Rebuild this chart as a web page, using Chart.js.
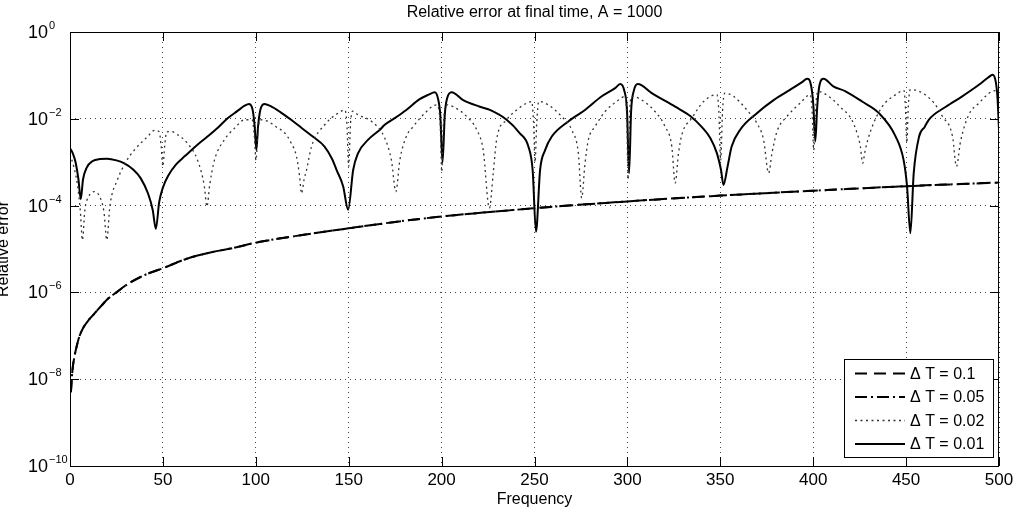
<!DOCTYPE html>
<html>
<head>
<meta charset="utf-8">
<title>Relative error at final time</title>
<script src="https://cdn.jsdelivr.net/npm/chart.js@4.4.0/dist/chart.umd.min.js"></script>
<style>
  html, body { margin: 0; padding: 0; background: #fff; }
  #errChart { display: block; }
</style>
</head>
<body>
<canvas id="errChart" width="1018" height="514"></canvas>
<script>
// values (frequency / relative error)

// dT = 0.1 and dT = 0.05 sit on top of each other
const lowFreq = [0.5, 1, 1.5, 2.5, 3.5, 5, 7, 10, 13, 17, 21, 25, 30, 40, 50, 62.5, 75, 87.5,
  100, 125, 150, 175, 200, 250, 300, 350, 400, 450, 500];
const errDt01 = [5e-9, 1.1e-8, 1.9e-8, 3.5e-8, 5.5e-8, 9.5e-8, 1.5e-7, 2.3e-7, 3.2e-7, 5e-7,
  7.5e-7, 1e-6, 1.45e-6, 2.5e-6, 3.6e-6, 5.9e-6, 8.2e-6, 1.05e-5,
  1.4e-5, 2.1e-5, 3e-5, 4.2e-5, 5.6e-5, 8.7e-5, 1.25e-4, 1.7e-4, 2.2e-4, 2.8e-4, 3.4e-4];
const errDt005 = [5e-9, 1.1e-8, 1.9e-8, 3.5e-8, 5.5e-8, 9.5e-8, 1.5e-7, 2.3e-7, 3.2e-7, 5e-7,
  7.5e-7, 1e-6, 1.45e-6, 2.5e-6, 3.6e-6, 5.9e-6, 8.2e-6, 1.05e-5,
  1.4e-5, 2.1e-5, 3e-5, 4.2e-5, 5.6e-5, 8.7e-5, 1.25e-4, 1.7e-4, 2.2e-4, 2.8e-4, 3.4e-4];

const dt002Freq = [0, 2, 4, 5.5, 6.7, 8, 10, 13, 16, 18.3, 19.8, 21.5, 25.6, 30, 34.6, 41.8, 45.4,
  48, 49, 50, 51, 52, 54.3, 57.9, 63.3, 68.7, 72.3, 73.7, 75.2, 77.7, 83.1, 88.6, 94,
  98, 99.2, 100.1, 101, 102.2, 106.6, 111, 115.6, 119, 121.9, 123.5, 124.6, 126, 127.3, 130,
  137.1, 144.3, 147.9, 149, 150, 151, 152.2, 155.1, 162.3, 169.4, 173, 175.4, 177.5, 181,
  184.7, 191, 197.3, 199.2, 200.1, 201, 202.8, 206.3, 213.5, 218.9, 222.4, 225.7, 227.8,
  229.6, 235, 240.4, 245.8, 248.5, 249.5, 250.3, 251.2, 252.3, 257.4, 264.6, 270, 273.6,
  275.4, 277.2, 279, 282.6, 288, 295.2, 298.7, 299.6, 300.4, 301.2, 302.2, 305.9, 314.9,
  320.3, 323.9, 325.7, 327.5, 329.3, 334.7, 341, 348.2, 349.2, 350.2, 351.2, 352.4, 357.1,
  364.3, 369.7, 373.3, 376, 377.8, 380.5, 385.9, 393, 398.4, 399.4, 400.3, 401.2, 402.5,
  405.6, 410.8, 416.2, 419.1, 422.7, 425.4, 426.6, 428, 430.8, 437.1, 444.4, 448.8, 449.6,
  450.4, 451.2, 452.2, 457, 465.1, 469.6, 475, 477.1, 479.3, 483.7, 489.2, 496.4, 500];
const errDt002 = [1.5e-3, 8e-4, 3e-4, 8e-5, 1.6e-5, 8e-5, 1.6e-4, 2.1e-4, 1.6e-4, 7e-5, 1.6e-5,
  1e-4, 4e-4, 1e-3, 1.9e-3, 3.9e-3, 5.4e-3,
  5e-3, 2.5e-3, 8e-4, 2.5e-3, 5e-3, 5.1e-3, 4.3e-3, 2.7e-3, 1.1e-3, 2.8e-4, 9.5e-5, 3e-4,
  1.1e-3, 3.3e-3, 6.1e-3, 9.5e-3,
  9.5e-3, 4e-3, 1.1e-3, 4e-3, 9.5e-3, 8.7e-3, 6.5e-3, 4.7e-3, 2.8e-3, 1.35e-3, 5e-4, 1.9e-4,
  4e-4, 6.6e-4, 2.3e-3,
  7.3e-3, 1.35e-2, 1.6e-2, 8e-3, 8e-4, 8e-3, 1.5e-2, 1.23e-2, 8.7e-3, 3.6e-3, 1.1e-3, 2.1e-4,
  1.1e-3, 3.9e-3,
  6.6e-3, 1.35e-2, 2.1e-2, 8e-3, 6e-4, 8e-3, 2.1e-2, 1.9e-2, 1.13e-2, 5.6e-3, 1.9e-3, 8.7e-5,
  5.6e-4,
  3.3e-3, 9.5e-3, 1.6e-2, 2.3e-2, 2.5e-2, 8e-3, 1e-3, 8e-3, 2.5e-2, 2.1e-2, 1.13e-2, 5.6e-3,
  1.6e-3,
  1.5e-4, 9.5e-4, 3.3e-3, 6.6e-3, 1.47e-2, 2.7e-2, 3.3e-2, 1.2e-2, 4e-4, 1.2e-2, 3.3e-2,
  3.0e-2, 1.47e-2,
  6.6e-3, 2.3e-3, 3.3e-4, 1.6e-3, 4.3e-3, 1.04e-2, 2.5e-2, 3.6e-2, 1.5e-2, 1.1e-3, 1.5e-2,
  3.9e-2, 3.3e-2,
  1.6e-2, 7.9e-3, 3.3e-3, 5.6e-4, 1.6e-3, 5.1e-3, 1.13e-2, 2.3e-2, 3.6e-2, 1.5e-2, 1.9e-3,
  1.5e-2, 4.3e-2,
  3.9e-2, 2.7e-2, 1.6e-2, 1.23e-2, 6.1e-3, 2.3e-3, 9.5e-4, 1.9e-3, 5.1e-3, 1.9e-2, 3.6e-2,
  4.5e-2, 2e-2,
  2.8e-3, 2e-2, 4.7e-2, 4.3e-2, 2.3e-2, 1.13e-2, 3.9e-3, 8e-4, 3e-3, 1.23e-2, 2.3e-2, 4.3e-2,
  4.5e-2];

const dt001Freq = [0, 1.5, 3, 4.5, 5.8, 7, 9, 12, 16, 20, 25, 29, 34, 38, 42, 44.5, 46.2, 48, 50,
  53, 57, 62, 68, 74, 80, 85, 90, 94, 96.3, 97.8, 98.6, 99.4, 100.3, 101.2, 102.1, 103, 104.7,
  108, 113, 119, 125, 131, 137, 141, 143.5, 147, 149.7, 152.4, 155, 160.5, 166.8, 169.4, 175,
  181, 188, 193, 196.3, 198, 199.3, 200.5, 201.7, 203, 205.4, 211.6, 220.6, 226, 235, 242,
  246.7, 249, 250.8, 253, 255.7, 259.3, 268.2, 277.2, 286.2, 293.4, 296.1, 298.3, 299.8,
  300.9, 302, 303.5, 305.6, 313.1, 325.7, 334, 340, 344.6, 348.2, 350.4, 351.7, 353.9, 356.1,
  360.7, 369.7, 378.7, 387.7, 394, 396.7, 398.8, 400.1, 401.1, 402.2, 403.4, 405.6, 410.8,
  417.4, 426.3, 435.4, 444.4, 448.7, 450.5, 452.3, 454.1, 457, 460, 462.2, 471.4, 480.2,
  489.2, 494, 496.6, 498.3, 499.2, 500];
const errDt001 = [2.1e-3, 1.6e-3, 1.0e-3, 4.2e-4, 1.4e-4, 4e-4, 7.5e-4, 1.05e-3, 1.18e-3, 1.2e-3,
  1.1e-3, 9.5e-4, 6.8e-4, 4.3e-4, 1.9e-4, 8e-5, 2.9e-5, 1.2e-4, 2.6e-4,
  5e-4, 8.8e-4, 1.4e-3, 2.4e-3, 3.9e-3, 6.5e-3, 1.04e-2, 1.5e-2, 2e-2, 2.2e-2, 1.9e-2,
  1.35e-2, 6.6e-3, 1.9e-3, 6.6e-3, 1.35e-2, 1.9e-2, 2.2e-2,
  1.95e-2, 1.45e-2, 9.5e-3, 6e-3, 3.8e-3, 2.3e-3, 1.2e-3, 6.6e-4, 2.8e-4, 8e-5, 6.6e-4,
  1.6e-3, 3.3e-3, 5.6e-3, 7.3e-3, 1.05e-2,
  1.6e-2, 2.8e-2, 3.6e-2, 4.1e-2, 3e-2, 1.2e-2, 9.8e-4, 1.2e-2, 3e-2, 4.1e-2, 2.7e-2, 1.9e-2,
  1.6e-2, 9.5e-3, 4.7e-3,
  2.3e-3, 6.6e-4, 2.5e-5, 6.6e-4, 1.9e-3, 3.9e-3, 8.7e-3, 1.6e-2, 3.3e-2, 5.1e-2, 6.3e-2,
  4.5e-2, 1.5e-2,
  5.6e-4, 1.5e-2, 4.5e-2, 6.3e-2, 3.9e-2, 1.9e-2, 1.15e-2, 6.5e-3, 3.6e-3, 1.6e-3, 6.6e-4,
  3e-4, 7.9e-4, 2.3e-3,
  5.6e-3, 1.35e-2, 2.7e-2, 4.7e-2, 7e-2, 8.4e-2, 6e-2, 2e-2, 3e-3, 2e-2, 6e-2, 8.4e-2, 5.6e-2,
  4.3e-2, 2.5e-2, 1.35e-2, 3.9e-3, 1.1e-3, 2.8e-4, 2.3e-5, 5.6e-4, 3.9e-3, 6.5e-3, 9.5e-3,
  1.9e-2, 3.3e-2,
  6.1e-2, 8.8e-2, 1.04e-1, 7e-2, 3e-2, 5.6e-3];

const seriesLabels = ['\u0394 T = 0.1', '\u0394 T = 0.05', '\u0394 T = 0.02', '\u0394 T = 0.01'];
const xTicks = [0, 50, 100, 150, 200, 250, 300, 350, 400, 450, 500];
const yExponents = [-10, -8, -6, -4, -2, 0];

const FONT = '"Liberation Sans", Arial, Helvetica, sans-serif';

function toPoints(xs, ys) {
  return xs.map((x, i) => ({ x: x, y: ys[i] }));
}

// line looks, also reused for the legend samples
const styles = [
  { dash: [12, 7], width: 2, color: '#000' },
  { dash: [12, 4, 2, 4], width: 2, color: '#000' },
  { dash: [2, 3.5], width: 1.3, color: '#333' },
  { dash: [], width: 2, color: '#000' }
];
const seriesData = [
  toPoints(lowFreq, errDt01),
  toPoints(lowFreq, errDt005),
  toPoints(dt002Freq, errDt002),
  toPoints(dt001Freq, errDt001)
];

const datasets = seriesData.map((pts, i) => ({
  label: seriesLabels[i],
  data: pts,
  borderColor: styles[i].color,
  borderWidth: styles[i].width,
  borderDash: styles[i].dash,
  pointRadius: 0,
  cubicInterpolationMode: 'monotone',
  fill: false
}));

function supText(e) {
  return e < 0 ? '\u2212' + Math.abs(e) : String(e);
}

// title, axis labels, tick labels, box, inward ticks and legend
const decorPlugin = {
  id: 'decor',
  afterDraw(chart) {
    const ctx = chart.ctx;
    const a = chart.chartArea;
    const xs = chart.scales.x;
    const ys = chart.scales.y;
    ctx.save();
    ctx.setLineDash([]);
    ctx.strokeStyle = '#000';
    ctx.lineWidth = 1;

    // frame
    ctx.strokeRect(a.left + 0.5, a.top + 0.5, a.right - a.left - 1, a.bottom - a.top);

    // ticks pointing in
    ctx.beginPath();
    xTicks.forEach(v => {
      const px = Math.round(xs.getPixelForValue(v)) + 0.5;
      ctx.moveTo(px, a.bottom); ctx.lineTo(px, a.bottom - 9);
      ctx.moveTo(px, a.top); ctx.lineTo(px, a.top + 9);
    });
    yExponents.forEach(e => {
      const py = Math.round(ys.getPixelForValue(Math.pow(10, e))) + 0.5;
      ctx.moveTo(a.left, py); ctx.lineTo(a.left + 9, py);
      ctx.moveTo(a.right, py); ctx.lineTo(a.right - 9, py);
    });
    ctx.stroke();

    ctx.fillStyle = '#000';

    // x tick labels
    ctx.font = '17px ' + FONT;
    ctx.textAlign = 'center';
    ctx.textBaseline = 'middle';
    xTicks.forEach(v => {
      ctx.fillText(String(v), xs.getPixelForValue(v), a.bottom + 14);
    });

    // y tick labels as 10 with a raised exponent
    yExponents.forEach(e => {
      const py = ys.getPixelForValue(Math.pow(10, e));
      ctx.font = '18px ' + FONT;
      ctx.textAlign = 'left';
      ctx.textBaseline = 'middle';
      ctx.fillText('10', 28, py + 1);
      const w = ctx.measureText('10').width;
      ctx.font = '11px ' + FONT;
      ctx.fillText(supText(e), 28 + w + 1, py - 6);
    });

    // title and axis labels
    const midX = (a.left + a.right) / 2;
    ctx.font = '16px ' + FONT;
    ctx.textAlign = 'center';
    ctx.textBaseline = 'middle';
    ctx.fillText('Relative error at final time, A = 1000', midX, 13);
    ctx.fillText('Frequency', midX, 500);

    ctx.save();
    ctx.translate(8, (a.top + a.bottom) / 2);
    ctx.rotate(-Math.PI / 2);
    ctx.textBaseline = 'alphabetic';
    ctx.fillText('Relative error', 0, 0);
    ctx.restore();

    // legend box
    const lx = 844.5, ly = 359.5, lw = 149, lh = 98;
    ctx.fillStyle = '#fff';
    ctx.fillRect(lx, ly, lw, lh);
    ctx.strokeStyle = '#000';
    ctx.lineWidth = 1;
    ctx.strokeRect(lx, ly, lw, lh);
    ctx.font = '16px ' + FONT;
    ctx.textAlign = 'left';
    ctx.textBaseline = 'middle';
    seriesLabels.forEach((lab, i) => {
      const ry = 373.5 + i * 23.5;
      ctx.beginPath();
      ctx.setLineDash(styles[i].dash);
      ctx.lineWidth = styles[i].width;
      ctx.strokeStyle = styles[i].color;
      ctx.moveTo(855, ry);
      ctx.lineTo(905, ry);
      ctx.stroke();
      ctx.setLineDash([]);
      ctx.fillStyle = '#000';
      ctx.fillText(lab, 910, ry + 1);
    });

    ctx.restore();
  }
};

const errChart = new Chart(document.getElementById('errChart').getContext('2d'), {
  type: 'line',
  data: { datasets: datasets },
  options: {
    responsive: false,
    animation: false,
    layout: { padding: { top: 32, right: 19, left: 0, bottom: 0 } },
    plugins: {
      legend: { display: false },
      title: { display: false },
      tooltip: { enabled: false }
    },
    scales: {
      x: {
        type: 'linear',
        min: 0,
        max: 500,
        afterBuildTicks: s => { s.ticks = xTicks.map(v => ({ value: v })); },
        afterFit: s => { s.height = 48; },
        ticks: { display: false },
        grid: { color: '#444', lineWidth: 1, drawTicks: false },
        border: { display: false, dash: [1, 4] }
      },
      y: {
        type: 'logarithmic',
        min: 1e-10,
        max: 1,
        afterBuildTicks: s => { s.ticks = yExponents.map(e => ({ value: Math.pow(10, e) })); },
        afterFit: s => { s.width = 70; },
        ticks: { display: false },
        grid: { color: '#444', lineWidth: 1, drawTicks: false },
        border: { display: false, dash: [1, 4] }
      }
    }
  },
  plugins: [decorPlugin]
});
</script>
</body>
</html>
